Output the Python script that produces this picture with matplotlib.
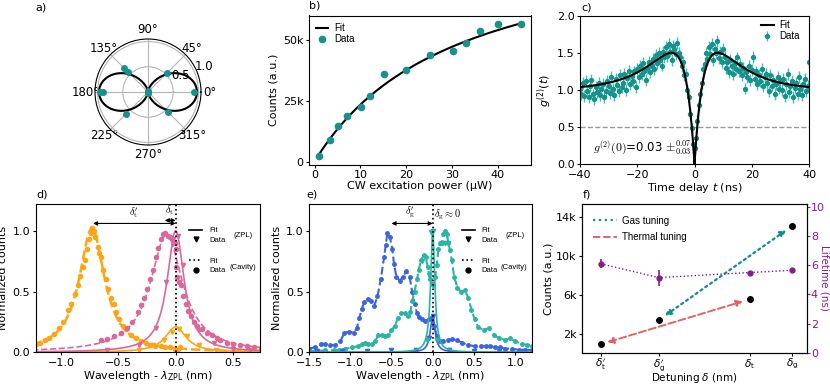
import numpy as np
import matplotlib
matplotlib.use('Agg')
import matplotlib.pyplot as plt
from matplotlib.lines import Line2D

plt.rcParams['font.family'] = ['DejaVu Sans']
plt.rcParams['font.size'] = 8
plt.rcParams['axes.linewidth'] = 0.8
plt.rcParams['xtick.major.size'] = 2.5
plt.rcParams['ytick.major.size'] = 2.5
plt.rcParams['xtick.major.pad'] = 1.5
plt.rcParams['ytick.major.pad'] = 1.5

W, H = 830, 385

# ---- colours
TEAL = '#17918a'
TEAL_LIGHT = '#42bfae'
ORANGE = '#ffa515'
PINK = '#d9689b'
BLUE = '#3e63de'
SEA = '#29b4a5'
PURPLE = '#8b1a8b'
SALMON = '#e06464'
GAS = '#138c8c'
LEG_FONT = 'Liberation Sans'

# ---- a) polarisation
pol_angle = [0, 45, 90, 135, 135, 180, 180, 225, 270, 315]
pol_r = [0.92, 0.54, 0.02, 0.66, 0.55, 0.96, 0.90, 0.61, 0.02, 0.57]
pol_fit_amp = 0.97

# ---- b) saturation
power = [0.9, 3.3, 5.1, 7.1, 10.2, 12.2, 15.1, 20.0, 25.1, 30.1, 33.0, 36.0, 40.0, 45.0]
counts_b = [2200, 8900, 14500, 18700, 22500, 27000, 35800, 37700, 43700, 45600,
            48600, 53800, 56500, 56500]
sat_A = 95900
sat_Psat = 31.0

# ---- c) g2 (0.5 ns bins from -40 to 40 ns)
g2_vals = [
    1.02, 0.95, 1.10, 0.92, 1.12, 0.98, 0.90, 1.05, 1.13, 0.94,
    0.88, 1.04, 0.97, 1.10, 0.93, 1.01, 1.08, 0.91, 0.99, 1.12,
    1.05, 0.96, 1.18, 1.02, 0.93, 1.15, 1.07, 0.99, 1.20, 1.04,
    1.10, 1.22, 1.00, 1.16, 1.26, 1.08, 1.19, 1.12, 1.25, 1.04,
    1.28, 1.18, 1.33, 1.22, 1.36, 1.25, 1.14, 1.30, 1.38, 1.24,
    1.32, 1.42, 1.28, 1.47, 1.36, 1.50, 1.40, 1.33, 1.52, 1.45,
    1.58, 1.46, 1.62, 1.52, 1.40, 1.60, 1.55, 1.48, 1.63, 1.50,
    1.45, 1.32, 1.38, 1.20, 1.22, 1.00, 0.90, 0.68, 0.48, 0.27,
    0.22,
    0.35, 0.58, 0.80, 0.95, 1.10, 1.28, 1.35, 1.50, 1.42, 1.58,
    1.48, 1.62, 1.40, 1.55, 1.50, 1.66, 1.43, 1.52, 1.38, 1.56,
    1.45, 1.30, 1.38, 1.24, 1.40, 1.32, 1.22, 1.36, 1.28, 1.44,
    1.26, 1.35, 1.20, 1.30, 1.02, 1.24, 1.18, 1.33, 1.14, 1.27,
    1.45, 1.15, 1.25, 1.08, 1.20, 1.12, 1.28, 1.05, 1.18, 1.22,
    1.10, 0.98, 1.20, 1.06, 1.14, 0.95, 1.08, 1.18, 1.02, 1.12,
    1.00, 1.15, 0.92, 1.08, 1.22, 0.97, 1.05, 1.12, 0.90, 1.03,
    1.10, 0.95, 1.18, 1.02, 0.93, 1.08, 1.15, 0.98, 1.05, 1.38,
]
g2_t = np.arange(-40, 40.01, 0.5)
g2_err = 0.08
g2_a, g2_t1, g2_t2 = 1.5, 3.3, 11.0

# ---- d) thermal tuning spectra
d_orange_x = [-1.22, -1.18, -1.14, -1.10, -1.06, -1.02, -0.98, -0.94, -0.91, -0.88, -0.855,
              -0.83, -0.81, -0.79, -0.77, -0.757, -0.74, -0.725, -0.71, -0.70, -0.68, -0.665,
              -0.65, -0.63, -0.61, -0.59, -0.565, -0.54, -0.52, -0.49, -0.46, -0.43, -0.39,
              -0.35, -0.30, -0.26, -0.22, -0.18, -0.13, -0.09, -0.05, -0.01, 0.02, 0.04]
d_orange_y = [0.07, 0.08, 0.10, 0.12, 0.15, 0.20, 0.25, 0.35, 0.40, 0.48, 0.55,
              0.63, 0.70, 0.76, 0.85, 0.93, 0.98, 1.02, 1.00, 0.95, 0.87, 0.82,
              0.78, 0.68, 0.60, 0.52, 0.45, 0.40, 0.33, 0.27, 0.22, 0.19, 0.14,
              0.12, 0.09, 0.08, 0.06, 0.05, 0.05, 0.04, 0.04, 0.03, 0.03, 0.04]
d_orange_zpl_x = [-0.32, -0.2, -0.1, -0.03, 0.03, 0.1, 0.2, 0.35, 0.55]
d_orange_zpl_y = [0.02, 0.06, 0.10, 0.17, 0.19, 0.13, 0.06, 0.02, 0.01]
d_pink_x = [-0.65, -0.6, -0.54, -0.48, -0.42, -0.38, -0.33, -0.30, -0.275, -0.25, -0.22,
            -0.2, -0.174, -0.15, -0.13, -0.11, -0.09, -0.07, -0.05, -0.03, -0.01, 0.0,
            0.0, 0.01, 0.03, 0.043, 0.065, 0.087, 0.11, 0.13, 0.16, 0.19, 0.23, 0.275,
            0.32, 0.36, 0.39, 0.45, 0.5, 0.56, 0.62, 0.68, 0.74]
d_pink_y = [0.10, 0.11, 0.13, 0.16, 0.20, 0.25, 0.33, 0.39, 0.45, 0.52, 0.60,
            0.68, 0.78, 0.86, 0.93, 0.97, 0.98, 0.96, 0.95, 0.93, 0.90, 0.85,
            0.70, 0.62, 0.58, 0.55, 0.46, 0.40, 0.34, 0.30, 0.25, 0.22, 0.19, 0.16,
            0.14, 0.12, 0.10, 0.08, 0.07, 0.06, 0.05, 0.04, 0.03]
d_pink_zpl_x = [-0.6, -0.32, -0.17, -0.08, -0.02, 0.02, 0.06, 0.12, 0.2, 0.33, 0.5, 0.65]
d_pink_zpl_y = [0.02, 0.06, 0.20, 0.58, 0.93, 0.96, 0.72, 0.33, 0.18, 0.08, 0.03, 0.02]
# Lorentzian fit parameters (centre, hwhm, amplitude)
d_orange_cav_fit = (-0.73, 0.135, 1.02)
d_orange_zpl_fit = (0.0, 0.11, 0.21)
d_pink_cav_fit = (-0.08, 0.17, 0.97)
d_pink_zpl_fit = (0.0, 0.09, 1.0)

# ---- e) gas tuning spectra
e_blue_x = [-1.5, -1.43, -1.35, -1.3, -1.24, -1.18, -1.12, -1.07, -1.02, -0.96, -0.92,
            -0.89, -0.86, -0.83, -0.79, -0.75, -0.71, -0.67, -0.63, -0.59, -0.57, -0.55,
            -0.52, -0.49, -0.47, -0.44, -0.40, -0.36, -0.32, -0.28, -0.25, -0.22, -0.19,
            -0.17, -0.13, -0.09, -0.05, -0.02, 0.02, 0.05, 0.09, 0.13, 0.19, 0.23, 0.29,
            0.35, 0.43, 0.51, 0.58, 0.64, 0.70, 0.76, 0.82, 0.88, 0.96, 1.04, 1.12, 1.2]
e_blue_y = [0.03, 0.04, 0.07, 0.065, 0.06, 0.06, 0.09, 0.16, 0.17, 0.16, 0.20,
            0.28, 0.36, 0.41, 0.44, 0.42, 0.38, 0.46, 0.60, 0.78, 0.88, 0.98,
            0.95, 0.85, 0.73, 0.62, 0.59, 0.62, 0.67, 0.62, 0.50, 0.40, 0.32,
            0.29, 0.27, 0.26, 0.27, 0.28, 0.22, 0.13, 0.09, 0.09, 0.10, 0.11, 0.10,
            0.08, 0.06, 0.05, 0.05, 0.05, 0.05, 0.04, 0.04, 0.03, 0.03, 0.02, 0.02, 0.02]
e_sea_x = [-1.5, -1.4, -1.3, -1.2, -1.14, -1.06, -0.98, -0.9, -0.86, -0.82, -0.78, -0.74,
           -0.7, -0.66, -0.62, -0.58, -0.54, -0.5, -0.46, -0.42, -0.38, -0.34, -0.3, -0.27,
           -0.25, -0.22, -0.19, -0.17, -0.14, -0.11, -0.085, -0.06, -0.03, 0.0, 0.03, 0.05,
           0.07, 0.09, 0.11, 0.13, 0.15, 0.17, 0.19, 0.21, 0.23, 0.26, 0.3, 0.34, 0.39,
           0.43, 0.47, 0.51, 0.55, 0.62, 0.68, 0.74, 0.8, 0.88, 0.94, 1.0, 1.08, 1.14, 1.2]
e_sea_y = [0.01, 0.012, 0.015, 0.018, 0.02, 0.03, 0.04, 0.05, 0.07, 0.08, 0.07, 0.07,
           0.09, 0.14, 0.14, 0.13, 0.14, 0.18, 0.22, 0.28, 0.32, 0.32, 0.30, 0.33,
           0.42, 0.50, 0.60, 0.68, 0.76, 0.80, 0.78, 0.70, 0.60, 0.55, 0.62, 0.72,
           0.85, 0.90, 0.90, 0.97, 1.00, 0.97, 0.90, 0.84, 0.76, 0.62, 0.53, 0.50, 0.51,
           0.45, 0.35, 0.27, 0.21, 0.18, 0.20, 0.14, 0.12, 0.10, 0.115, 0.09, 0.07, 0.06, 0.055]
e_sea_zpl_x = [-0.125, -0.07, -0.05, -0.02, 0.0, 0.05, 0.11, 0.15, 0.19]
e_sea_zpl_y = [0.75, 0.10, 0.64, 0.99, 1.00, 0.10, 0.90, 0.90, 0.90]
e_blue_zpl_x = [-1.4, -1.1, -0.8, -0.5, -0.2, -0.05, 0.0, 0.05, 0.2, 0.5, 0.8, 1.1]
e_blue_zpl_y = [0.01, 0.01, 0.01, 0.015, 0.02, 0.12, 0.30, 0.10, 0.02, 0.01, 0.01, 0.01]
e_sea_zpl_fit = (0.0, 0.03, 1.0)
e_blue_zpl_fit = (0.0, 0.035, 0.3)

# ---- f) detuning summary
det_x = [-0.72, -0.5, -0.16, 0.0]
det_labels = [r"$\delta_{\rm t}'$", r"$\delta_{\rm g}'$", r"$\delta_{\rm t}$", r"$\delta_{\rm g}$"]
det_counts = [950, 3450, 5550, 13050]
det_lifetime = [6.1, 5.15, 5.5, 5.65]
det_lifetime_err = [0.3, 0.55, 0.1, 0.1]


def lor(x, p):
    x0, g, a = p
    return a / (1 + ((x - x0) / g) ** 2)


def px_axes(fig, left, top, right, bottom, **kw):
    return fig.add_axes([left / W, 1 - bottom / H, (right - left) / W, (bottom - top) / H], **kw)


def panel_label(fig, x, y, s):
    fig.text(x / W, 1 - y / H, s, fontsize=8, va='center', ha='left')


fig = plt.figure(figsize=(W / 100, H / 100), dpi=100)

# ------------------------------------------------------------------ a)
ax = px_axes(fig, 95, 39, 201, 145, projection='polar')
th = np.linspace(0, 2 * np.pi, 400)
ax.plot(th, pol_fit_amp * np.cos(th) ** 2, color='k', lw=1.5)
ax.plot(np.deg2rad(pol_angle), pol_r, 'o', color=TEAL, ms=4, zorder=3)
ax.set_rlim(0, 1.05)
ax.set_rticks([0.5, 1.0])
ax.set_rlabel_position(22.5)
ax.set_thetagrids(range(0, 360, 45))
ax.tick_params(labelsize=8.5)
ax.tick_params(axis='x', pad=-3)
ax.grid(color='#b5b5b5', lw=0.8)
panel_label(fig, 35, 8, 'a)')

# ------------------------------------------------------------------ b)
ax = px_axes(fig, 309, 15.5, 531, 164.5)
pf = np.linspace(0.8, 45, 200)
ax.plot(pf, sat_A * pf / (pf + sat_Psat), color='k', lw=1.5, label='Fit')
ax.plot(power, counts_b, 'o', color=TEAL, ms=4.5, label='Data')
ax.set_xlim(-1.2, 47.2)
ax.set_ylim(-1200, 60000)
ax.set_xticks([0, 10, 20, 30, 40])
ax.set_yticks([0, 25000, 50000])
ax.set_yticklabels(['0', '25k', '50k'])
ax.set_xlabel('CW excitation power (μW)', labelpad=1)
ax.set_ylabel('Counts (a.u.)', labelpad=3)
ax.legend(loc='upper left', bbox_to_anchor=(0.03, 0.95), frameon=False, borderpad=0,
          borderaxespad=0, handlelength=1.3, handletextpad=0.6, labelspacing=0.1,
          prop={'family': LEG_FONT, 'size': 7})
panel_label(fig, 309, 6, 'b)')

# ------------------------------------------------------------------ c)
ax = px_axes(fig, 580, 16, 809, 164)
tf = np.linspace(-40, 40, 1601)
g2_fit = 1 - (1 + g2_a) * np.exp(-np.abs(tf) / g2_t1) + g2_a * np.exp(-np.abs(tf) / g2_t2)
ax.plot(tf, g2_fit, color='k', lw=1.5, label='Fit', zorder=3)
ax.errorbar(g2_t, g2_vals, yerr=g2_err, fmt='o', ms=2.8, color=TEAL, ecolor=TEAL_LIGHT,
            elinewidth=1, capsize=0, label='Data', zorder=2)
ax.axhline(0.5, color='#999999', ls='--', lw=1)
ax.set_xlim(-40, 40)
ax.set_ylim(0, 2)
ax.set_yticks([0, 0.5, 1.0, 1.5, 2.0])
ax.set_xticks([-40, -20, 0, 20, 40])
ax.set_xlabel('Time delay $t$ (ns)', labelpad=1)
ax.set_ylabel('$g^{(2)}(t)$', labelpad=2)
ax.text(-35.5, 0.22, r'$g^{(2)}(0)$=0.03 $\pm^{0.07}_{0.03}$', fontsize=8.5,
        math_fontfamily='cm', va='center')
ax.legend(loc='upper left', bbox_to_anchor=(0.79, 0.97), frameon=False,
          borderpad=0, borderaxespad=0, handlelength=1.3, handletextpad=0.6,
          labelspacing=0.1, prop={'family': LEG_FONT, 'size': 7})
panel_label(fig, 581, 8, 'c)')


def spectra_legend(ax):
    kw = dict(frameon=False, borderpad=0, borderaxespad=0, handlelength=1.7,
              handletextpad=0.9, labelspacing=0.3, prop={'family': LEG_FONT, 'size': 5.5})
    l1 = ax.legend([Line2D([], [], color='k', lw=1.2),
                    Line2D([], [], color='k', marker='v', ls='none', ms=3.5)],
                   ['Fit', 'Data'], loc='upper left', bbox_to_anchor=(0.685, 0.845), **kw)
    ax.add_artist(l1)
    ax.legend([Line2D([], [], color='k', lw=1.2, ls=':'),
               Line2D([], [], color='k', marker='o', ls='none', ms=3.5)],
              ['Fit', 'Data'], loc='upper left', bbox_to_anchor=(0.685, 0.64), **kw)
    ax.text(0.882, 0.785, '(ZPL)', transform=ax.transAxes, fontsize=5.5,
            family=LEG_FONT, va='center')
    ax.text(0.862, 0.575, '(Cavity)', transform=ax.transAxes, fontsize=5.5,
            family=LEG_FONT, va='center')


def double_arrow(ax, x0, x1, y):
    ax.annotate('', xy=(x0, y), xytext=(x1, y),
                arrowprops=dict(arrowstyle='<|-|>', color='k', lw=0.8, shrinkA=0,
                                shrinkB=0, mutation_scale=6))


# ------------------------------------------------------------------ d)
ax = px_axes(fig, 35.7, 204, 260, 352.3)
xd = np.linspace(-1.25, 0.75, 600)
ax.plot(xd, lor(xd, d_orange_cav_fit), color=ORANGE, ls='--', lw=1.8)
ax.plot(d_orange_x, d_orange_y, 'o', color=ORANGE, ms=3)
ax.plot(xd, lor(xd, d_orange_zpl_fit), color=ORANGE, lw=1.2)
ax.plot(d_orange_zpl_x, d_orange_zpl_y, 'v', color=ORANGE, ms=3)
ax.plot(xd, lor(xd, d_pink_cav_fit), color=PINK, ls='--', lw=1.2)
ax.plot(d_pink_x, d_pink_y, 'o', color=PINK, ms=3)
ax.plot(xd, lor(xd, d_pink_zpl_fit), color=PINK, lw=1.2)
ax.plot(d_pink_zpl_x, d_pink_zpl_y, 'v', color=PINK, ms=3)
ax.axvline(0, color='k', ls=':', lw=1.2)
double_arrow(ax, -0.72, 0.0, 1.06)
double_arrow(ax, -0.095, 0.0, 1.085)
ax.text(-0.36, 1.09, r"$\delta_{\rm t}'$", fontsize=7.5, math_fontfamily='cm', ha='center', va='bottom')
ax.text(-0.05, 1.11, r"$\delta_{\rm t}$", fontsize=7.5, math_fontfamily='cm', ha='center', va='bottom')
ax.set_xlim(-1.22, 0.735)
ax.set_ylim(0, 1.22)
ax.set_xticks([-1.0, -0.5, 0.0, 0.5])
ax.set_yticks([0, 0.5, 1.0])
ax.set_xlabel(r'Wavelength - $\lambda_{\rm ZPL}$ (nm)', labelpad=1)
ax.set_ylabel('Normalized counts', labelpad=3)
spectra_legend(ax)
panel_label(fig, 36, 195, 'd)')

# ------------------------------------------------------------------ e)
ax = px_axes(fig, 309, 204, 531.7, 352.3)
xe = np.linspace(-1.5, 1.2, 1200)
ax.plot(e_blue_x, e_blue_y, 'o--', color=BLUE, ms=2.5, lw=1.5)
ax.plot(e_sea_x, e_sea_y, 'o--', color=SEA, ms=2.5, lw=1.5)
ax.plot(xe, lor(xe, e_blue_zpl_fit), color=BLUE, lw=1.2)
ax.plot(e_blue_zpl_x, e_blue_zpl_y, 'v', color=BLUE, ms=3)
ax.plot(xe, lor(xe, e_sea_zpl_fit), color=SEA, lw=1.2)
ax.plot(e_sea_zpl_x, e_sea_zpl_y, 'v', color=SEA, ms=3)
ax.axvline(0, color='k', ls=':', lw=1.2)
double_arrow(ax, -0.5, 0.0, 1.06)
ax.text(-0.27, 1.09, r"$\delta_{\rm g}'$", fontsize=7.5, math_fontfamily='cm', ha='center', va='bottom')
ax.text(0.01, 1.135, r"$\delta_{\rm g}\approx 0$", fontsize=7.5, math_fontfamily='cm', ha='left', va='center')
ax.set_xlim(-1.5, 1.2)
ax.set_ylim(0, 1.22)
ax.set_xticks([-1.5, -1.0, -0.5, 0.0, 0.5, 1.0])
ax.set_yticks([0, 0.5, 1.0])
ax.set_xlabel(r'Wavelength - $\lambda_{\rm ZPL}$ (nm)', labelpad=1)
ax.set_ylabel('Normalized counts', labelpad=3)
spectra_legend(ax)
panel_label(fig, 306.7, 195, 'e)')

# ------------------------------------------------------------------ f)
ax = px_axes(fig, 582, 204, 806.7, 352.7)
ax2 = ax.twinx()
ax.plot(det_x, det_counts, 'o', color='k', ms=4, zorder=4)
ax.annotate('', xy=(det_x[3], det_counts[3]), xytext=(det_x[1], det_counts[1]),
            arrowprops=dict(arrowstyle='<|-|>', color=GAS, lw=1.6, ls=':',
                            shrinkA=5, shrinkB=5, mutation_scale=9))
ax.annotate('', xy=(det_x[2], det_counts[2]), xytext=(det_x[0], det_counts[0]),
            arrowprops=dict(arrowstyle='<|-|>', color=SALMON, lw=1.4, ls='--',
                            shrinkA=5, shrinkB=5, mutation_scale=9))
ax2.errorbar(det_x, det_lifetime, yerr=det_lifetime_err, fmt='o', ls=':', color=PURPLE,
             ms=3.5, lw=1, elinewidth=1.2, capsize=0)
ax.set_xlim(-0.79, 0.055)
ax.set_ylim(90, 15300)
ax.set_yticks([2000, 6000, 10000, 14000])
ax.set_yticklabels(['2k', '6k', '10k', '14k'])
ax.set_xticks(det_x)
ax.set_xticklabels(det_labels, fontsize=7.5)
ax.tick_params(axis='x', length=2, pad=1)
ax.set_xlabel(r'Detuning $\delta$ (nm)', labelpad=-1, fontsize=7.5)
ax.set_ylabel('Counts (a.u.)', labelpad=2)
ax2.set_ylim(0, 10.2)
ax2.set_yticks([0, 2, 4, 6, 8, 10])
ax2.tick_params(axis='y', colors=PURPLE, length=2, pad=1)
ax2.spines['right'].set_color('k')
ax2.text(1.077, 0.5, 'Lifetime (ns)', color=PURPLE, rotation=270, transform=ax2.transAxes,
         ha='center', va='center', fontsize=7.5)
ax.legend([Line2D([], [], color=GAS, ls=':', lw=1.6),
           Line2D([], [], color=SALMON, ls='--', lw=1.4)],
          ['Gas tuning', 'Thermal tuning'], loc='upper left', bbox_to_anchor=(0.05, 0.92),
          frameon=False, borderpad=0, borderaxespad=0, handlelength=2.4,
          handletextpad=0.6, labelspacing=0.65, prop={'family': LEG_FONT, 'size': 7})
panel_label(fig, 583, 195, 'f)')

fig.savefig('out.png', dpi=100)
